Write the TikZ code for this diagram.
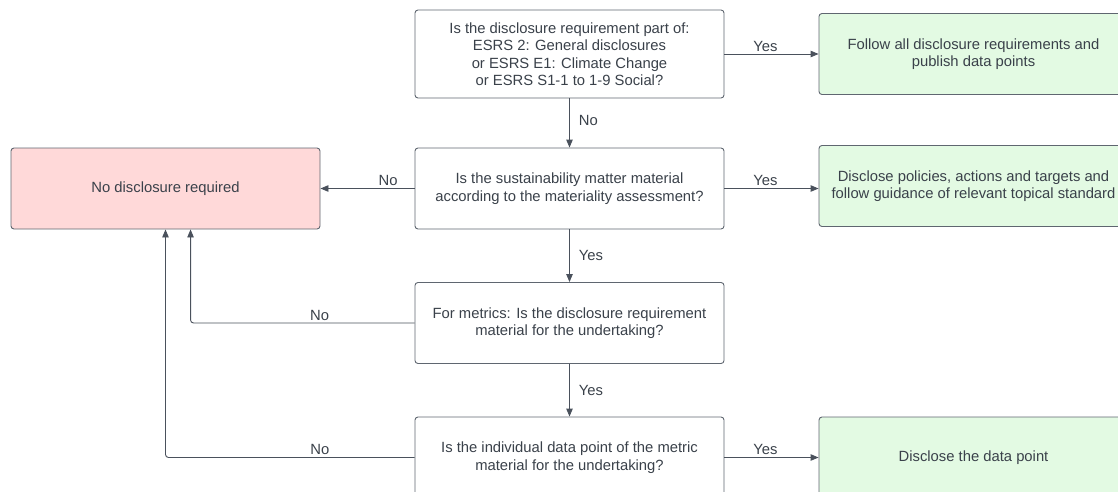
\documentclass[tikz,border=0pt]{standalone}
\usepackage{fontspec}
\setmainfont{Liberation Sans}
\usetikzlibrary{arrows.meta}
\definecolor{txt}{HTML}{3A414A}
\definecolor{edge}{HTML}{5F6670}
\definecolor{wire}{HTML}{4A515C}
\definecolor{redfill}{HTML}{FFD9D9}
\definecolor{greenfill}{HTML}{E3FAE3}
\tikzset{
  box/.style={draw=edge, line width=0.9pt, rounded corners=3pt, fill=white,
    minimum width=309pt, minimum height=81pt, inner sep=0pt, align=center,
    text=txt, font=\fontsize{14.8}{17.5}\selectfont},
  stopbox/.style={box, fill=redfill},
  gobox/.style={box, fill=greenfill},
  flow/.style={draw=wire, line width=0.9pt, rounded corners=3pt,
    -{Triangle[length=8pt,width=6.5pt]}},
  lbl/.style={text=txt, font=\fontsize{14.8}{17}\selectfont, inner sep=1pt}
}
\begin{document}
\begin{tikzpicture}[x=1pt,y=-1pt]
\path[use as bounding box] (0,0) rectangle (1118,492);
\clip (0,0) rectangle (1118,492);

% decision boxes
\node[box, minimum height=88pt] (q1) at (569.5,54)
  {Is the disclosure requirement part of:\\ESRS 2: General disclosures\\or ESRS E1: Climate Change\\or ESRS S1-1 to 1-9 Social?};
\node[box] (q2) at (569.5,188.5)
  {Is the sustainability matter material\\according to the materiality assessment?};
\node[box] (q3) at (569.5,323)
  {For metrics: Is the disclosure requirement\\material for the undertaking?};
\node[box] (q4) at (569.5,457.5)
  {Is the individual data point of the metric\\material for the undertaking?};

% outcome boxes
\node[stopbox] (none) at (165.5,188.5) {No disclosure required};
\node[gobox] (all) at (973.5,54) {Follow all disclosure requirements and\\publish data points};
\node[gobox] (policies) at (973.5,186)
  {Disclose policies, actions and targets and\\follow guidance of relevant topical standard};
\node[gobox] (point) at (973.5,457.5) {Disclose the data point};

% connectors
\draw[flow] (q1.east) -- (all.west) node[lbl, midway, above=1pt, xshift=-6pt] {Yes};
\draw[flow] (q1.south) -- (q2.north) node[lbl, midway, right=8pt, yshift=3pt] {No};
\draw[flow] (q2.west) -- (none.east) node[lbl, pos=0.28, above=1pt] {No};
\draw[flow] (q2.east) -- (q2.east -| policies.west) node[lbl, midway, above=1pt, xshift=-6pt] {Yes};
\draw[flow] (q2.south) -- (q3.north) node[lbl, midway, right=8pt] {Yes};
\draw[flow] (q3.west) -| ([xshift=180pt]none.south west)
  node[lbl, pos=0.212, above=1pt] {No};
\draw[flow] (q3.south) -- (q4.north) node[lbl, midway, right=8pt] {Yes};
\draw[flow] (q4.west) -| (none.south)
  node[lbl, pos=0.19, above=1pt] {No};
\draw[flow] (q4.east) -- (point.west) node[lbl, midway, above=1pt, xshift=-6pt] {Yes};
\end{tikzpicture}
\end{document}
